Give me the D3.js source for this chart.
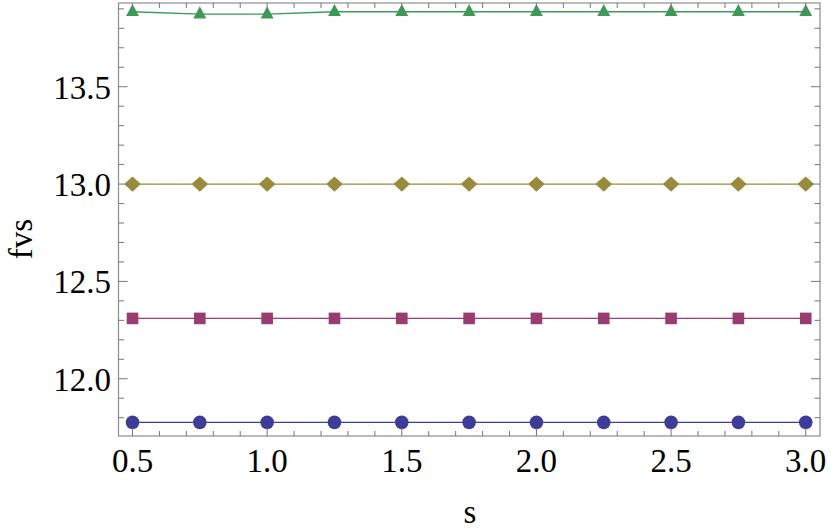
<!DOCTYPE html>
<html>
<head>
<meta charset="utf-8">
<script src="https://cdn.jsdelivr.net/npm/d3@7"></script>
<style>
  html, body { margin: 0; padding: 0; background: #fff; }
  svg { display: block; }
</style>
</head>
<body>
<svg id="chart" width="830" height="530"></svg>
<script>
const sValues = [0.5, 0.75, 1.0, 1.25, 1.5, 1.75, 2.0, 2.25, 2.5, 2.75, 3.0];
const seriesBlue    = [11.776, 11.776, 11.776, 11.776, 11.776, 11.776, 11.776, 11.776, 11.776, 11.776, 11.776];
const seriesMagenta = [12.310, 12.310, 12.310, 12.310, 12.310, 12.310, 12.310, 12.310, 12.310, 12.310, 12.310];
const seriesOlive   = [13.0, 13.0, 13.0, 13.0, 13.0, 13.0, 13.0, 13.0, 13.0, 13.0, 13.0];
const seriesGreen   = [13.885, 13.873, 13.873, 13.885, 13.885, 13.885, 13.885, 13.885, 13.885, 13.885, 13.885];
const xTickLabels = ["0.5", "1.0", "1.5", "2.0", "2.5", "3.0"];
const yTickLabels = ["12.0", "12.5", "13.0", "13.5"];
const xLabel = "s";
const yLabel = "fvs";

const FONT = "'Liberation Serif', Tinos, 'Noto Serif', 'DejaVu Serif', FreeSerif, 'Nimbus Roman', 'Nimbus Roman No9 L', Times, serif";

const svg = d3.select("#chart");
const L = 118.5, R = 820, T = 3, B = 436;

const x = d3.scaleLinear().domain([0.448, 3.053]).range([L, R]);
const y = d3.scaleLinear().domain([11.706, 13.930]).range([B, T]);

const frameColor = "#8c8c8c";

const series = [
  { vals: seriesBlue,    color: "#3d3d99", shape: "circle" },
  { vals: seriesMagenta, color: "#993d71", shape: "square" },
  { vals: seriesOlive,   color: "#998b3d", shape: "diamond" },
  { vals: seriesGreen,   color: "#3d9956", shape: "triangle" }
];

const plot = svg.append("g");
const line = d3.line().x((d, i) => x(sValues[i])).y(d => y(d));

series.forEach(s => {
  plot.append("path")
    .attr("d", line(s.vals))
    .attr("fill", "none")
    .attr("stroke", s.color)
    .attr("stroke-width", 1.3);
});

series.forEach(s => {
  const g = plot.append("g").attr("fill", s.color);
  s.vals.forEach((v, i) => {
    const cx = x(sValues[i]), cy = y(v);
    if (s.shape === "circle") {
      g.append("circle").attr("cx", cx).attr("cy", cy).attr("r", 6.8);
    } else if (s.shape === "square") {
      g.append("rect").attr("x", cx - 5.8).attr("y", cy - 5.8).attr("width", 11.6).attr("height", 11.6);
    } else if (s.shape === "diamond") {
      g.append("path").attr("d", `M${cx - 8.3},${cy} L${cx},${cy - 7.6} L${cx + 8.3},${cy} L${cx},${cy + 7.6} Z`);
    } else {
      g.append("path").attr("d", `M${cx - 6.4},${cy + 4.3} L${cx},${cy - 7.8} L${cx + 6.4},${cy + 4.3} Z`);
    }
  });
});

// Frame
svg.append("rect").attr("x", L).attr("y", T).attr("width", R - L).attr("height", B - T)
  .attr("fill", "none").attr("stroke", frameColor).attr("stroke-width", 1.2);

// Ticks
const ticksG = svg.append("g").attr("stroke", "#777").attr("stroke-width", 1);
d3.range(5, 31).forEach(k => {
  const v = k / 10;
  const major = k % 5 === 0;
  const len = major ? 8 : 5;
  const px = x(v);
  ticksG.append("line").attr("x1", px).attr("x2", px).attr("y1", B).attr("y2", B - len);
  ticksG.append("line").attr("x1", px).attr("x2", px).attr("y1", T).attr("y2", T + len);
});
d3.range(118, 140).forEach(k => {
  const v = k / 10;
  const major = k % 5 === 0;
  const len = major ? 9 : 5.5;
  const py = y(v);
  ticksG.append("line").attr("x1", L).attr("x2", L + len).attr("y1", py).attr("y2", py);
  ticksG.append("line").attr("x1", R).attr("x2", R - len).attr("y1", py).attr("y2", py);
});

// Tick labels
const fontSize = 33;
xTickLabels.forEach(t => {
  svg.append("text")
    .attr("x", x(+t)).attr("y", 472)
    .attr("text-anchor", "middle")
    .style("font-family", FONT)
    .attr("font-size", fontSize)
    .attr("fill", "#000")
    .text(t);
});
yTickLabels.forEach(t => {
  svg.append("text")
    .attr("x", 111).attr("y", y(+t) + 12)
    .attr("text-anchor", "end")
    .style("font-family", FONT)
    .attr("font-size", fontSize)
    .attr("fill", "#000")
    .text(t);
});

// Axis labels
svg.append("text")
  .attr("x", 470).attr("y", 523)
  .attr("text-anchor", "middle")
  .style("font-family", FONT)
  .attr("font-size", fontSize)
  .attr("fill", "#000")
  .text(xLabel);

svg.append("text")
  .attr("transform", "translate(32,239) rotate(-90)")
  .attr("text-anchor", "middle")
  .style("font-family", FONT)
  .attr("font-size", fontSize)
  .attr("fill", "#000")
  .text(yLabel);
</script>
</body>
</html>
